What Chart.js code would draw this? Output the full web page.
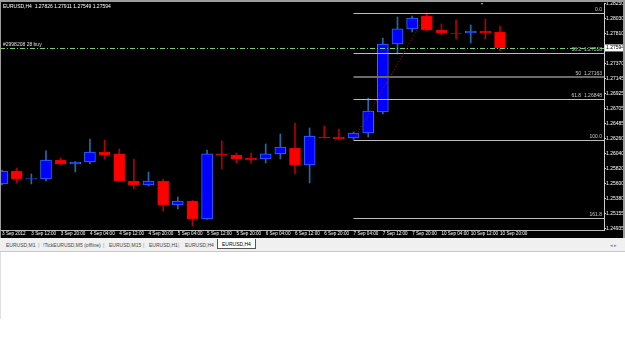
<!DOCTYPE html>
<html>
<head>
<meta charset="utf-8">
<script src="https://cdn.jsdelivr.net/npm/chart.js@4/dist/chart.umd.min.js"></script>
<style>
body { margin: 0; background: #fff; width: 625px; height: 351px; overflow: hidden; position: relative; font-family: "Liberation Sans", sans-serif; }
#wrap { position: absolute; left: 0; top: 0; width: 625px; height: 238px; }
#tabs { position: absolute; left: 0; top: 238px; width: 625px; height: 13px; background: #f0f0f0; border-bottom: 1px solid #c8c8c8; font-size: 5px; color: #444; }
#tabs span { position: absolute; top: 4px; white-space: nowrap; }
#tabs .sep { color: #999; }
#tabs .active { top: 1px; height: 10px; padding: 2px 4px 0; background: #fff; border: 1px solid #555; border-top: none; color: #000; box-sizing: border-box; }
#below { position: absolute; left: 0; top: 252px; width: 624px; height: 67px; border-left: 1px solid #e0e0e0; }
</style>
</head>
<body>
<div id="wrap"><canvas id="c" width="625" height="238"></canvas></div>
<div id="tabs">
  <span style="left:6px">EURUSD,M1</span>
  <span class="sep" style="left:38px">|</span>
  <span style="left:43px">!TickEURUSD,M5 (offline)</span>
  <span class="sep" style="left:103px">|</span>
  <span style="left:109px">EURUSD,M15</span>
  <span class="sep" style="left:143px">|</span>
  <span style="left:149px">EURUSD,H1</span>
  <span class="sep" style="left:178px">|</span>
  <span style="left:185px">EURUSD,H4</span>
  <span class="active" style="left:217px">EURUSD,H4</span>
  <span style="left:610px;color:#888">&#9666; &#9656;</span>
</div>
<div id="below"></div>
<script>
// EURUSD H4 candles, 3 Sep 2012 04:00 .. 10 Sep 20:00
const opens  = [1.25596, 1.25787, 1.25665, 1.25669, 1.25948, 1.25890, 1.25919, 1.26066, 1.26037, 1.25640,
                1.25581, 1.25640, 1.25287, 1.25346, 1.25082, 1.26037, 1.26022, 1.25978, 1.25963, 1.26037,
                1.26125, 1.25875, 1.26286, 1.26286, 1.26272, 1.26345, 1.26653, 1.27652, 1.27873, 1.28063,
                1.27858, 1.27814, 1.27814, 1.27843, 1.27826];
const highs  = [1.25801, 1.25831, 1.25743, 1.26081, 1.25978, 1.25925, 1.26257, 1.26242, 1.26110, 1.25963,
                1.25772, 1.25669, 1.25405, 1.25355, 1.26095, 1.26228, 1.26051, 1.26051, 1.26183, 1.26330,
                1.26492, 1.26418, 1.26448, 1.26404, 1.26360, 1.26859, 1.27740, 1.28049, 1.28063, 1.28108,
                1.27946, 1.28005, 1.27931, 1.28019, 1.27911];
const lows   = [1.25581, 1.25611, 1.25596, 1.25640, 1.25875, 1.25772, 1.25890, 1.25963, 1.25630, 1.25522,
                1.25567, 1.25199, 1.25229, 1.24979, 1.25075, 1.25816, 1.25904, 1.25904, 1.25904, 1.25963,
                1.25743, 1.25611, 1.26272, 1.26257, 1.26242, 1.26286, 1.26624, 1.27505, 1.27828, 1.27843,
                1.27784, 1.27726, 1.27667, 1.27726, 1.27549];
const closes = [1.25787, 1.25669, 1.25674, 1.25948, 1.25890, 1.25919, 1.26066, 1.26022, 1.25640, 1.25581,
                1.25640, 1.25287, 1.25346, 1.25082, 1.26037, 1.26022, 1.25963, 1.25948, 1.26037, 1.26139,
                1.25875, 1.26301, 1.26272, 1.26257, 1.26345, 1.26668, 1.27652, 1.27873, 1.28034, 1.27858,
                1.27814, 1.27806, 1.27843, 1.27814, 1.27594];

const timeLabels = ['3 Sep 2012', '3 Sep 12:00', '3 Sep 20:00', '4 Sep 04:00', '4 Sep 12:00', '4 Sep 20:00',
                    '5 Sep 04:00', '5 Sep 12:00', '5 Sep 20:00', '6 Sep 04:00', '6 Sep 12:00', '6 Sep 20:00',
                    '7 Sep 04:00', '7 Sep 12:00', '7 Sep 20:00', '10 Sep 04:00', '10 Sep 12:00', '10 Sep 20:00'];
const priceTicks = [1.28250, 1.28030, 1.27810, 1.27370, 1.27145, 1.26925, 1.26705, 1.26485,
                    1.26260, 1.26040, 1.25820, 1.25600, 1.25380, 1.25155, 1.24935];

const bidPrice = 1.27594;
const orderPrice = 1.27594;
const orderText = '#2998208 28 buy';

// fibonacci drawn from the low of candle 24 to the high of candle 29
const fibStart = 24, fibEnd = 29;
const fibNames  = ['0.0', '38.2  1.27518', '50  1.27163', '61.8  1.26848', '100.0', '161.8'];
const fibPrices = [1.28103, 1.27518, 1.27163, 1.26848, 1.26242, 1.25092];

const idx = opens.map((_, i) => i);
const bull = idx.map(i => closes[i] >= opens[i]);

const overlay = {
  id: 'overlay',
  beforeDraw(chart) {
    const ctx = chart.ctx;
    ctx.save();
    ctx.fillStyle = '#000';
    ctx.fillRect(0, 0, chart.width, chart.height);
    ctx.restore();
  },
  afterDatasetsDraw(chart) {
    const ctx = chart.ctx, x = chart.scales.x, y = chart.scales.y, a = chart.chartArea;
    ctx.save();
    ctx.beginPath();
    ctx.rect(a.left, a.top, a.right - a.left, a.bottom - a.top);
    ctx.clip();

    // fibo levels
    const fx = x.getPixelForValue(fibStart);
    fibPrices.forEach((p, k) => {
      const mid = k === 2;
      const py = Math.round(y.getPixelForValue(p)) + (mid ? 0 : 0.5);
      ctx.strokeStyle = mid ? '#6a6a6a' : '#bdbdbd';
      ctx.lineWidth = mid ? 2 : 1;
      ctx.beginPath(); ctx.moveTo(fx, py); ctx.lineTo(a.right, py); ctx.stroke();
      ctx.fillStyle = '#c8c8c8';
      ctx.font = '5px "Liberation Sans"';
      ctx.textAlign = 'right'; ctx.textBaseline = 'bottom';
      ctx.fillText(fibNames[k], a.right - 2, py - 1);
    });

    // fibo base line
    ctx.strokeStyle = '#d00000';
    ctx.lineWidth = 1;
    ctx.setLineDash([1, 2]);
    ctx.beginPath();
    ctx.moveTo(x.getPixelForValue(fibStart), y.getPixelForValue(lows[fibStart]));
    ctx.lineTo(x.getPixelForValue(fibEnd), y.getPixelForValue(highs[fibEnd]));
    ctx.stroke();

    // order line
    const oy = Math.round(y.getPixelForValue(orderPrice)) + 0.5;
    ctx.strokeStyle = '#6fd36f';
    ctx.setLineDash([5, 2, 1, 2]);
    ctx.beginPath(); ctx.moveTo(a.left, oy); ctx.lineTo(a.right, oy); ctx.stroke();
    ctx.setLineDash([]);
    ctx.fillStyle = '#e0e0e0';
    ctx.font = '5px "Liberation Sans"';
    ctx.textAlign = 'left'; ctx.textBaseline = 'bottom';
    ctx.fillText(orderText, a.left + 3, oy - 1);

    // title
    ctx.fillStyle = '#fff';
    ctx.textBaseline = 'top';
    ctx.fillText('EURUSD,H4  1.27826 1.27911 1.27549 1.27594', a.left + 3, 4);

    // chart shift marker
    ctx.fillStyle = '#a0a0a0';
    const sx = x.getPixelForValue(opens.length - 1) - 18;
    ctx.beginPath(); ctx.moveTo(sx - 2.5, 1); ctx.lineTo(sx + 2.5, 1); ctx.lineTo(sx, 5); ctx.closePath(); ctx.fill();
    ctx.restore();

    // bid price box on the axis
    ctx.save();
    const by = y.getPixelForValue(bidPrice);
    ctx.fillStyle = '#fff';
    ctx.fillRect(a.right + 1, by - 3.5, 19, 7);
    ctx.fillStyle = '#000';
    ctx.font = '5px "Liberation Sans"';
    ctx.textAlign = 'left'; ctx.textBaseline = 'middle';
    ctx.fillText(bidPrice.toFixed(5), a.right + 2, by);
    // window frame
    ctx.fillStyle = '#9c9c9c';
    ctx.fillRect(0, 0, chart.width, 2);
    ctx.fillRect(0, 0, 1, chart.height);
    ctx.fillRect(chart.width - 2, 0, 2, chart.height);
    ctx.restore();
  }
};

new Chart(document.getElementById('c'), {
  type: 'bar',
  data: {
    datasets: [
      {
        label: 'wick',
        data: idx.map(i => ({ x: i, y: [lows[i], highs[i]] })),
        backgroundColor: idx.map(i => bull[i] ? '#2169ad' : '#b40000'),
        borderWidth: 0,
        barThickness: 1,
        grouped: false,
        order: 2
      },
      {
        label: 'body',
        data: idx.map(i => ({ x: i, y: [opens[i], closes[i]] })),
        backgroundColor: idx.map(i => bull[i] ? '#0000ff' : '#ff0000'),
        borderColor: idx.map(i => bull[i] ? '#2a6dff' : '#e00000'),
        borderWidth: 1,
        borderSkipped: false,
        barThickness: 11,
        grouped: false,
        order: 1
      }
    ]
  },
  options: {
    responsive: false,
    animation: false,
    devicePixelRatio: 1,
    layout: { padding: { top: 3, left: 0, right: 0, bottom: 0 } },
    plugins: { legend: { display: false }, tooltip: { enabled: false } },
    scales: {
      x: {
        type: 'linear',
        position: 'bottom',
        offset: false,
        min: -0.14,
        max: 41.10,
        afterBuildTicks: s => { s.ticks = timeLabels.map((_, k) => ({ value: k * 2 })); },
        afterFit: s => { s.height = 8; },
        ticks: {
          autoSkip: false, maxRotation: 0, align: 'start', padding: 0,
          color: '#fff', font: { family: 'Liberation Sans', size: 4.6 },
          callback: v => timeLabels[v / 2]
        },
        grid: { offset: false, drawOnChartArea: false, tickLength: 1, color: '#bbb' },
        border: { display: true, color: '#bbb' }
      },
      y: {
        type: 'linear',
        position: 'right',
        min: 1.24920,
        max: 1.28254,
        afterBuildTicks: s => { s.ticks = priceTicks.map(v => ({ value: v })); },
        afterFit: s => { s.width = 21; },
        ticks: {
          padding: 0, color: '#fff', font: { family: 'Liberation Sans', size: 5 },
          callback: v => v.toFixed(5)
        },
        grid: { drawOnChartArea: false, tickLength: 2, color: '#ddd' },
        border: { display: true, color: '#ccc' }
      }
    }
  },
  plugins: [overlay]
});
</script>
</body>
</html>
